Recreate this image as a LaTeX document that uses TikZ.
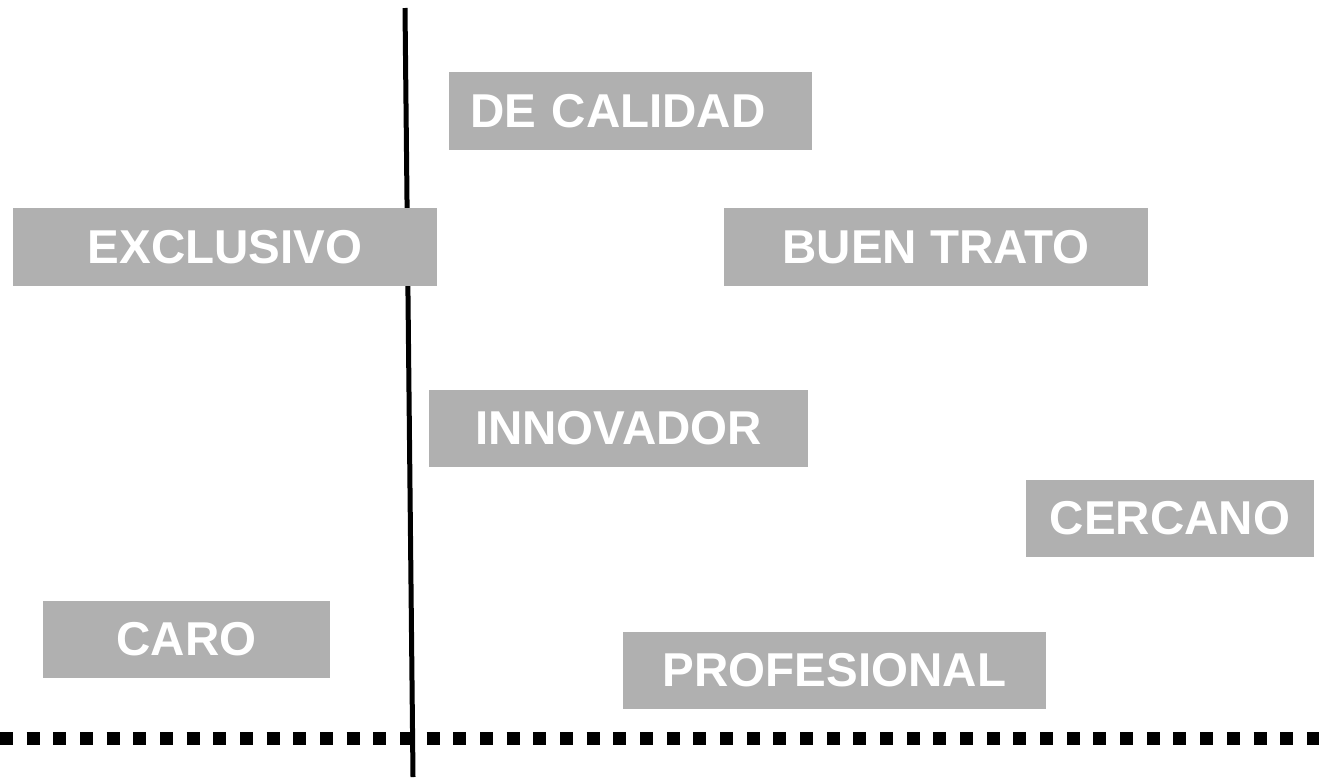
\documentclass[tikz,border=0pt]{standalone}
\usepackage{fontspec}
\setmainfont{Liberation Sans}
\usepackage{tikz}
\usetikzlibrary{positioning}
\usepackage{xcolor}
\definecolor{tagGray}{RGB}{176,176,176}
\tikzstyle{axis} = [line width=5pt,color=black]
\tikzstyle{baseline} = [line width=13pt,color=black,dash pattern=on 13pt off 13.67pt]
\tikzstyle{tag} = [rectangle, fill=tagGray, inner sep=0pt, minimum height=77pt, text=white, font=\fontsize{47.5}{50}\selectfont\bfseries, text centered]

\begin{document}
\begin{tikzpicture}[x=1pt,y=-1pt]
\useasboundingbox (0,0) rectangle (1319,777);
% Axes
\coordinate (top) at (405,8);
\coordinate (bottom) at (413,777);
\coordinate (left) at (0,738.5);
\coordinate (right) at (1319,738.5);
\draw[axis] (top) -- (bottom);
\draw[baseline] (left) -- (right);

% Attributes
\node (calidad) [tag, minimum height=78pt, text width=321pt, inner xsep=21pt, align=left] at (630.5,111) {DE CALIDAD};
\node (exclusivo) [tag, minimum height=78pt, minimum width=424pt] at (225,247) {EXCLUSIVO};
\node (trato) [tag, minimum height=78pt, minimum width=424pt] at (936,247) {BUEN TRATO};
\node (innovador) [tag, minimum width=379pt] at (618.5,428.5) {INNOVADOR};
\node (cercano) [tag, minimum width=288pt] at (1170,518.5) {CERCANO};
\node (caro) [tag, minimum width=287pt] at (186.5,639.5) {CARO};
\node (profesional) [tag, minimum width=423pt] at (834.5,670.5) {PROFESIONAL};
\end{tikzpicture}
\end{document}
